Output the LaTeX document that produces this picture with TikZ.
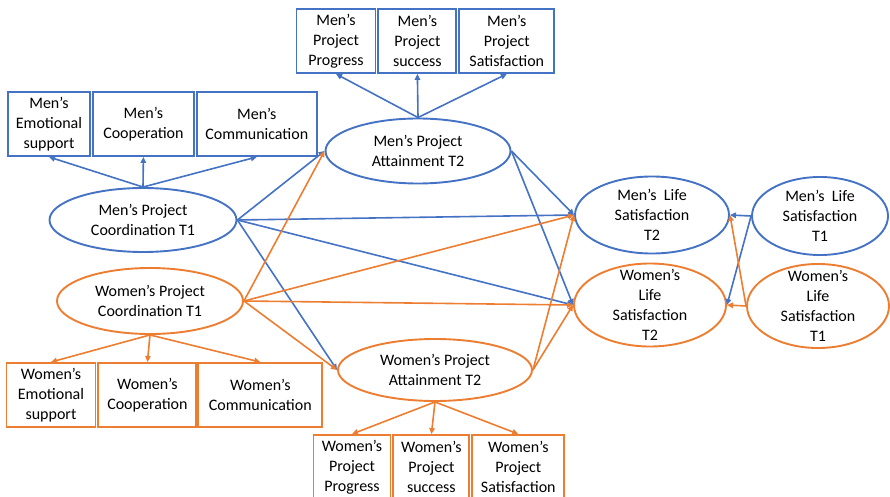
\documentclass[tikz,border=0pt]{standalone}
\usepackage{fontspec}
\setmainfont{Carlito}
\usepackage{xcolor}
\usetikzlibrary{arrows.meta,positioning,shapes.geometric}
\definecolor{menblue}{HTML}{4472C4}
\definecolor{womenorange}{HTML}{ED7D31}

\begin{document}
\begin{tikzpicture}[x=1pt, y=-1pt, font=\fontsize{16}{20}\selectfont, node distance=1pt,
  box/.style={draw, line width=1.9pt, align=center, minimum height=64pt, inner sep=2pt},
  ell/.style={draw, ellipse, line width=1.9pt, align=center, inner xsep=0pt, inner ysep=-10pt},
  mbox/.style={box, draw=menblue}, wbox/.style={box, draw=womenorange},
  mell/.style={ell, draw=menblue}, well/.style={ell, draw=womenorange},
  arr/.style={-{Triangle[length=6pt,width=5.5pt]}, line width=1.6pt},
  marr/.style={arr, menblue}, warr/.style={arr, womenorange}]
  \useasboundingbox (0,0) rectangle (890,497);
  % latent variables
  \node[mell, minimum width=187pt, minimum height=64pt] (mct1) at (143,220) {Men’s Project\\Coordination T1};
  \node[mell, minimum width=185pt, minimum height=65pt] (mat2) at (418,151) {Men’s Project\\Attainment T2};
  \node[mell, minimum width=154pt, minimum height=77pt] (mls2) at (652,215) {Men’s~ Life\\Satisfaction\\T2};
  \node[mell, minimum width=136pt, minimum height=78pt] (mls1) at (820,216) {Men’s~ Life\\Satisfaction\\T1};
  \node[well, minimum width=152pt, minimum height=83pt] (wls2) at (650,305) {Women’s\\Life\\Satisfaction\\T2};
  \node[well, minimum width=142pt, minimum height=84pt] (wls1) at (818,306) {Women’s\\Life\\Satisfaction\\T1};
  \node[well, minimum width=186pt, minimum height=66pt] (wct1) at (150,301) {Women’s Project\\Coordination T1};
  \node[well, minimum width=194pt, minimum height=62pt] (wat2) at (435,370) {Women’s Project\\Attainment T2};
  % indicators
  \node[mbox, minimum width=82pt] (mes) at (49,124) {Men’s\\Emotional\\support};
  \node[mbox, minimum width=101pt, right=of mes] (mco) {Men’s\\Cooperation};
  \node[mbox, minimum width=120pt, right=of mco] (mcm) {Men’s\\Communication};
  \node[mbox, minimum width=79pt] (mpp) at (336,41) {Men’s\\Project\\Progress};
  \node[mbox, minimum width=78pt, right=of mpp] (mps) {Men’s\\Project\\success};
  \node[mbox, minimum width=95pt, right=of mps] (msat) {Men’s\\Project\\Satisfaction};
  \node[wbox, minimum width=89pt] (wes) at (51,395) {Women’s\\Emotional\\support};
  \node[wbox, minimum width=98pt, right=of wes] (wco) {Women’s\\Cooperation};
  \node[wbox, minimum width=124pt, right=0pt of wco] (wcm) {Women’s\\Communication};
  \node[wbox, minimum width=77pt] (wpp) at (352,467) {Women’s\\Project\\Progress};
  \node[wbox, minimum width=76pt, right=of wpp] (wps) {Women’s\\Project\\success};
  \node[wbox, minimum width=92pt, right=of wps] (wsat) {Women’s\\Project\\Satisfaction};
  % measurement arrows
  \draw[marr] (mct1.north) -- (mes.south); \draw[marr] (mct1.north) -- (mco.south); \draw[marr] (mct1.north) -- (mcm.south);
  \draw[marr] (mat2.north) -- (mpp.south); \draw[marr] (mat2.north) -- (mps.south); \draw[marr] (mat2.north) -- (msat.south);
  \draw[warr] (wct1.south) -- (wes.north); \draw[warr] (wct1.south) -- (wco.north); \draw[warr] (wct1.south) -- (wcm.north);
  \draw[warr] (wat2.south) -- (wpp.north); \draw[warr] (wat2.south) -- (wps.north); \draw[warr] (wat2.south) -- (wsat.north);
  % structural paths
  \draw[marr] (mct1.east) -- (mat2.west); \draw[marr] (mct1.east) -- (mls2.west);
  \draw[marr] (mct1.east) -- (wls2.west); \draw[marr] (mct1.east) -- (wat2.west);
  \draw[marr] (mat2.east) -- (mls2.west); \draw[marr] (mat2.east) -- (wls2.west);
  \draw[marr] (mls1.west) -- (mls2.east); \draw[marr] (mls1.west) -- (wls2.east);
  \draw[warr] (wct1.east) -- (mat2.west); \draw[warr] (wct1.east) -- (mls2.west);
  \draw[warr] (wct1.east) -- (wls2.west); \draw[warr] (wct1.east) -- (wat2.west);
  \draw[warr] (wat2.east) -- (mls2.west); \draw[warr] (wat2.east) -- (wls2.west);
  \draw[warr] (wls1.west) -- (wls2.east); \draw[warr] (wls1.west) -- (mls2.east);
\end{tikzpicture}
\end{document}
